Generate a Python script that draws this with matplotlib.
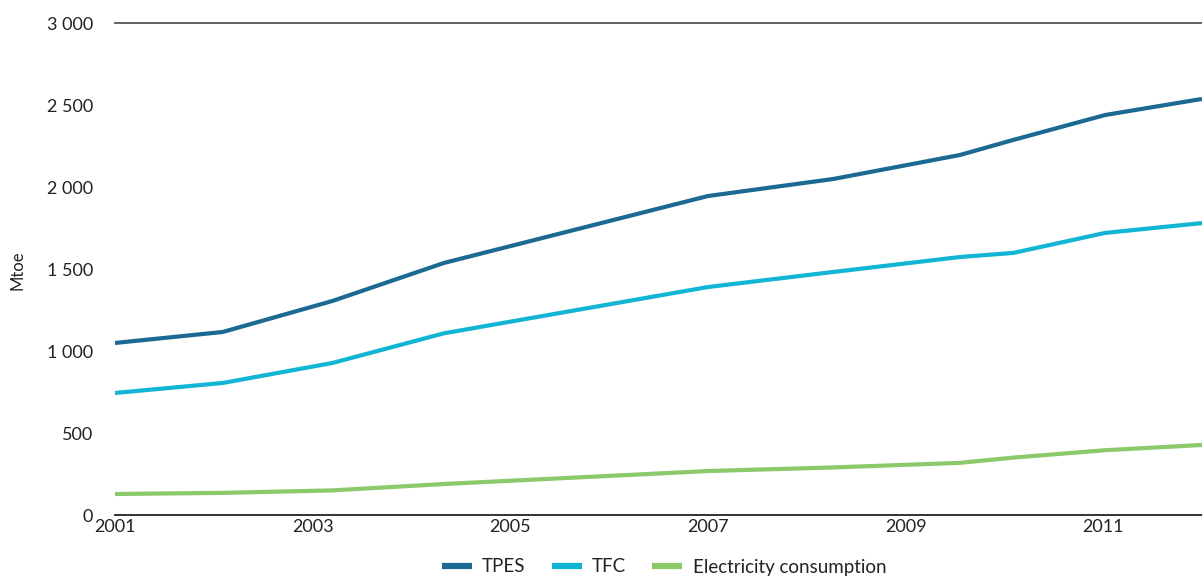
import numpy as np
import matplotlib.pyplot as plt
from matplotlib.ticker import FuncFormatter

# data (x in years, values in Mtoe)
years = [2001.0, 2002.09, 2003.2, 2004.33, 2007.0, 2008.27, 2009.55, 2010.09, 2011.02, 2012.0]
tpes = [1049, 1116, 1305, 1537, 1945, 2049, 2195, 2287, 2439, 2537]
tfc = [744, 805, 927, 1108, 1390, 1482, 1573, 1598, 1720, 1780]
elec = [128, 135, 150, 189, 268, 290, 318, 350, 395, 427]
tick_years = [2001, 2003, 2005, 2007, 2009, 2011]

plt.rcParams['font.family'] = ['Lato', 'DejaVu Sans']

fig = plt.figure(figsize=(12.02, 5.77), dpi=100)
ax = fig.add_axes([115/1202, 1-515/577, 1-115/1202, (515-23)/577])

ax.plot(years, tpes, color='#1c6a93', lw=3, label='TPES', solid_capstyle='butt')
ax.plot(years, tfc, color='#12b5d4', lw=3, label='TFC', solid_capstyle='butt')
ax.plot(years, elec, color='#8cc96a', lw=3, label='Electricity consumption',
	solid_capstyle='butt')

ax.set_xlim(2001, 2012)
ax.set_ylim(0, 3000)
ax.set_yticks(np.arange(0, 3001, 500))
ax.yaxis.set_major_formatter(FuncFormatter(lambda v, p: f'{int(v):,}'.replace(',', ' ')))
ax.set_xticks(tick_years)
ax.set_xticklabels([str(y) for y in tick_years])
ax.tick_params(axis='both', length=0, labelsize=13, colors='#222222')
ax.tick_params(axis='y', pad=16)
ax.tick_params(axis='x', pad=3)

for s in ['left', 'right']:
	ax.spines[s].set_visible(False)
ax.spines['top'].set_color('#555555')
ax.spines['top'].set_linewidth(1.3)
ax.spines['bottom'].set_color('#222222')
ax.spines['bottom'].set_linewidth(1.3)

fig.text(17/1202, 1-270/577, 'Mtoe', rotation=90, ha='center', va='center',
	fontsize=12, color='#222222')

leg = fig.legend(loc='center', bbox_to_anchor=(664/1202, 1-567/577), ncol=3,
	frameon=False, fontsize=13.5, handlelength=1.6, handletextpad=0.55,
	columnspacing=1.4, borderaxespad=0)
for h in leg.get_lines():
	h.set_linewidth(4.5)
for t in leg.get_texts():
	t.set_color('#222222')

fig.savefig('out.png', dpi=100)
